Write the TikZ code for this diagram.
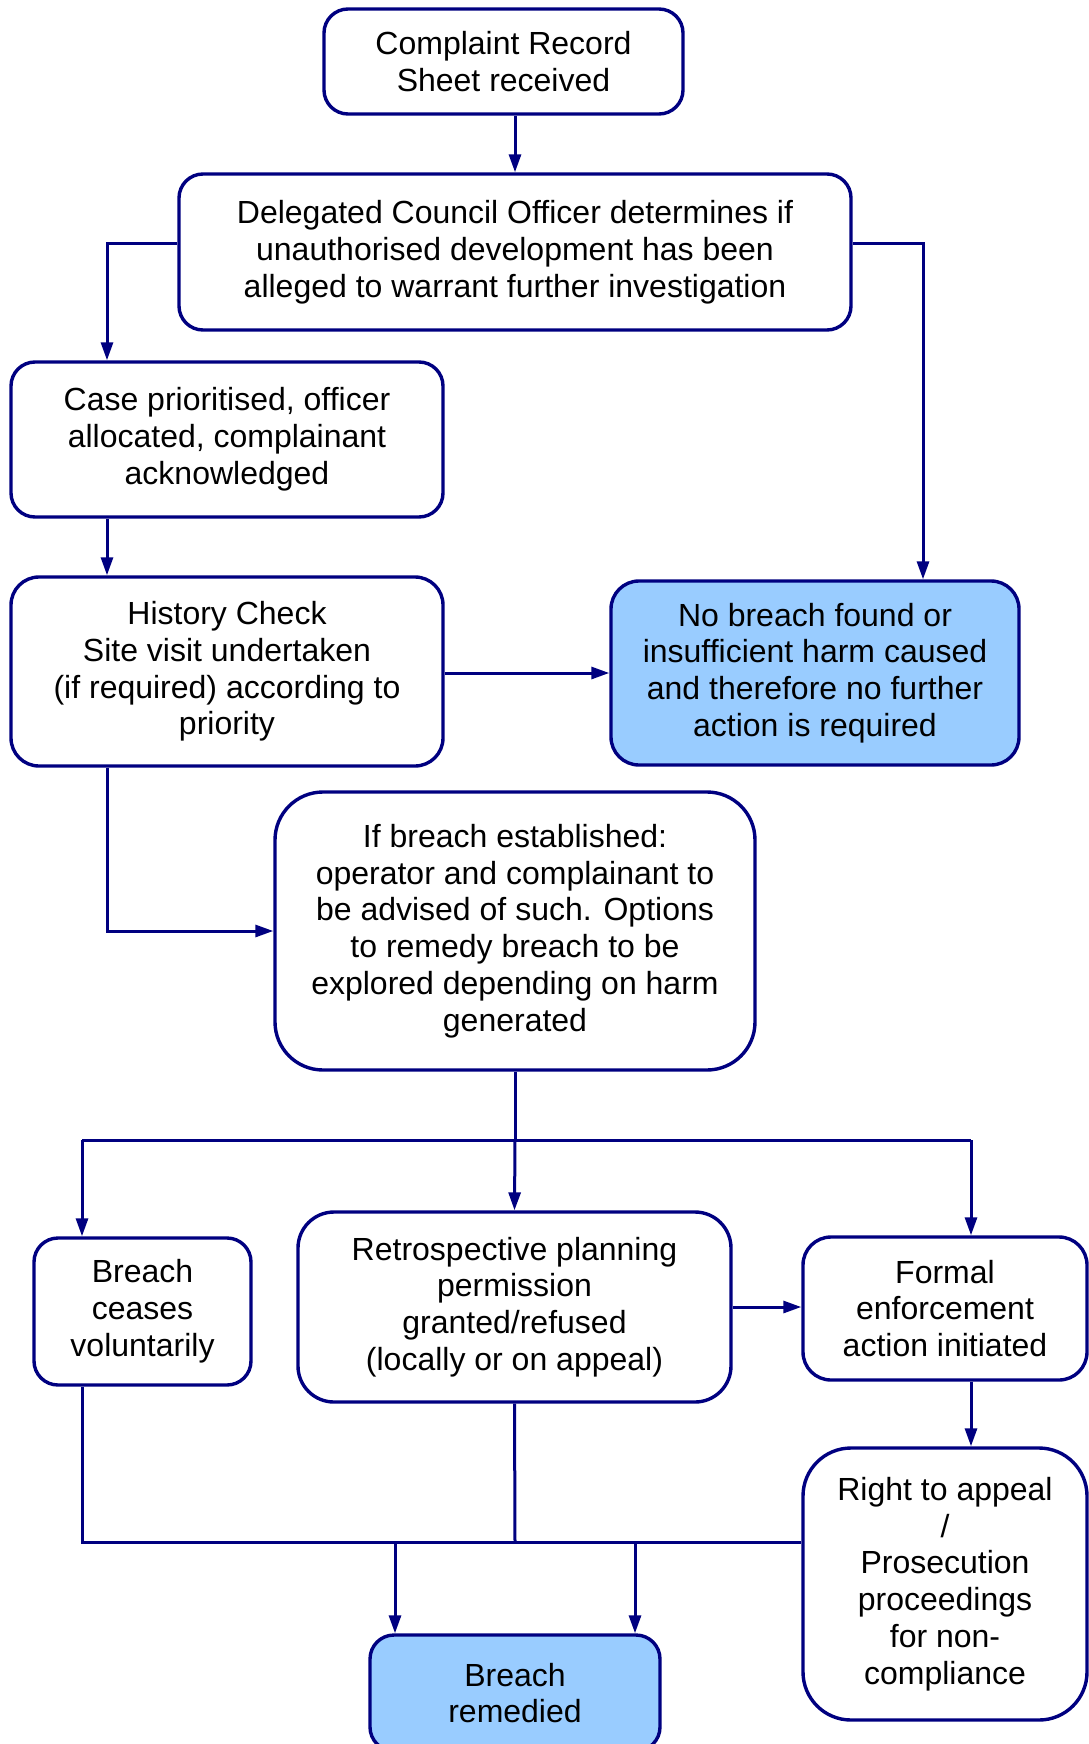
\documentclass[tikz,border=0pt]{standalone}
\usepackage{fontspec}
\setmainfont{Liberation Sans}
\usepackage{xcolor}
\usetikzlibrary{arrows.meta}
\definecolor{navyline}{RGB}{0,0,128}
\definecolor{paleblue}{HTML}{99CCFF}

\begin{document}
\begin{tikzpicture}[x=0.5pt,y=-0.5pt,>={Triangle[length=9pt,width=6pt]},
                    line width=1.5pt,draw=navyline,
                    main node/.style={rectangle,draw=navyline,line width=1.7pt,rounded corners=12pt,
                      align=center,inner sep=0pt,font=\fontsize{16}{18.4}\selectfont},
                    end node/.style={main node,fill=paleblue}]
  \useasboundingbox (0,0) rectangle (1088,1744);

  \node[main node,minimum width=179.5pt,minimum height=52.5pt] (complaint) at (503.5,61.5)
    {Complaint Record\\Sheet received};
  \node[main node,minimum width=336pt,minimum height=78pt] (officer) at (515,252)
    {Delegated Council Officer determines if\\unauthorised development has been\\alleged to warrant further investigation};
  \node[main node,minimum width=216pt,minimum height=77.5pt] (prioritised) at (227,439.5)
    {Case prioritised, officer\\allocated, complainant\\acknowledged};
  \node[main node,minimum width=216pt,minimum height=94.5pt,rounded corners=14pt] (history) at (227,671.5)
    {History Check\\Site visit undertaken\\(if required) according to\\priority};
  \node[end node,minimum width=204pt,minimum height=92pt,rounded corners=14pt] (nobreach) at (815,673)
    {No breach found or\\insufficient harm caused\\and therefore no further\\action is required};
  \node[main node,minimum width=240pt,minimum height=139pt,rounded corners=24pt] (established) at (515,931)
    {If breach established:\\operator and complainant to\\be advised of such. Options\\to remedy breach to be\\explored depending on harm\\generated};
  \node[main node,minimum width=108.5pt,minimum height=73.5pt] (ceases) at (142.5,1311.5)
    {Breach\\ceases\\voluntarily};
  \node[main node,minimum width=216.5pt,minimum height=95pt,rounded corners=18pt] (retro) at (514.5,1307)
    {Retrospective planning\\permission\\granted/refused\\(locally or on appeal)};
  \node[main node,minimum width=142pt,minimum height=71.5pt,rounded corners=14pt] (formal) at (945,1308.5)
    {Formal\\enforcement\\action initiated};
  \node[main node,minimum width=142pt,minimum height=136pt,rounded corners=24pt] (appeal) at (945,1584)
    {Right to appeal\\/\\Prosecution\\proceedings\\for non-\\compliance};
  \node[end node,minimum width=145pt,minimum height=58pt] (remedied) at (515,1693)
    {Breach\\remedied};

  % trunk points
  \coordinate (lcol) at (107,0);
  \coordinate (rcol) at (923,0);
  \coordinate (split) at (515,1140);
  \coordinate (lsplit) at (82,1140);
  \coordinate (rsplit) at (971,1140);
  \coordinate (join) at (515,1542);
  \coordinate (dropl) at (395,1542);
  \coordinate (dropr) at (635,1542);

  \draw[->] (complaint.south -| officer.north) -- (officer.north);
  \draw[->] ([yshift=4pt]officer.west) -| (prioritised.north -| lcol);
  \draw[->] ([yshift=4pt]officer.east) -| (nobreach.north -| rcol);
  \draw[->] (prioritised.south -| lcol) -- (history.north -| lcol);
  \draw[->] (history.east |- nobreach.west) -- (nobreach.west);
  \draw[->] (history.south -| lcol) |- (established.west);

  \draw (established.south) -- (split);
  \draw (lsplit) -- (rsplit);
  \draw[->] (split) -- (retro.north);
  \draw[->] (lsplit) -- (lsplit |- ceases.north);
  \draw[->] (rsplit) -- (rsplit |- formal.north);
  \draw[->] (retro.east) -- (retro.east -| formal.west);
  \draw[->] (formal.south -| rsplit) -- (appeal.north -| rsplit);

  \draw (ceases.south -| lsplit) |- (join -| appeal.west);
  \draw (retro.south) -- (join);
  \draw[->] (dropl) -- (dropl |- remedied.north);
  \draw[->] (dropr) -- (dropr |- remedied.north);
\end{tikzpicture}
\end{document}
